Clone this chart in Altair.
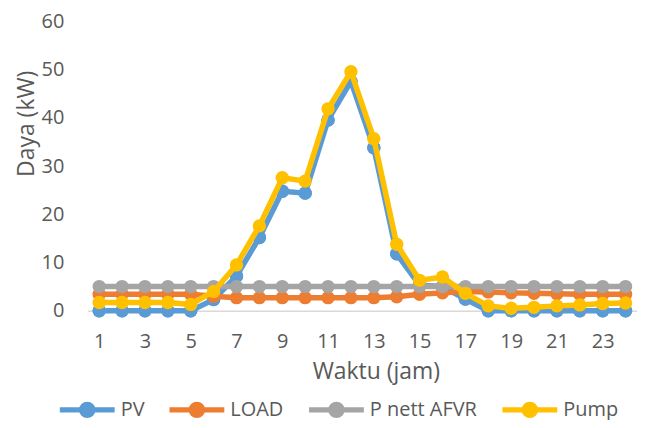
import altair as alt
import pandas as pd

hours = list(range(1, 25))
series_names = ["PV", "LOAD", "P nett AFVR", "Pump"]
series_colors = ["#5B9BD5", "#ED7D31", "#A5A5A5", "#FFC000"]

pv = [0, 0, 0, 0, 0, 2.3, 7.2, 15.2, 24.8, 24.4, 39.6, 47.6, 33.8, 11.8,
      5.3, 5.0, 2.4, 0, 0, 0, 0, 0, 0, 0]
load = [3.4, 3.4, 3.4, 3.4, 3.4, 3.0, 2.7, 2.7, 2.7, 2.7, 2.7, 2.7, 2.7, 2.9,
        3.4, 3.7, 4.0, 3.9, 3.7, 3.6, 3.5, 3.4, 3.4, 3.4]
pnett = [5.0, 5.0, 5.0, 5.0, 5.0, 5.0, 5.0, 5.0, 5.0, 5.0, 5.0, 5.0, 5.0, 5.0,
         5.0, 5.0, 5.0, 5.0, 5.0, 5.0, 5.0, 5.0, 5.0, 5.0]
pump = [1.7, 1.7, 1.7, 1.7, 1.3, 4.0, 9.5, 17.6, 27.6, 26.9, 41.9, 49.6, 35.7, 13.8,
        6.3, 7.0, 3.6, 1.0, 0.5, 0.7, 1.0, 1.2, 1.5, 1.6]

x_ticks = [1, 3, 5, 7, 9, 11, 13, 15, 17, 19, 21, 23]
y_ticks = [0, 10, 20, 30, 40, 50, 60]

rows = []
for name, vals in zip(series_names, [pv, load, pnett, pump]):
    for h, v in zip(hours, vals):
        rows.append({"Waktu": h, "Daya": v, "Seri": name})
df = pd.DataFrame(rows)

FONT = "Open Sans"
TXT = "#595959"

legend = alt.Legend(
    title=None,
    orient="none",
    legendX=-31,
    legendY=359,
    direction="horizontal",
    symbolType="M-1,0H1M-0.2,0A0.2,0.2,0,1,0,0.2,0A0.2,0.2,0,1,0,-0.2,0",
    symbolSize=3025,
    symbolStrokeWidth=5.5,
    symbolOpacity=1,
    labelFont=FONT,
    labelFontSize=20,
    labelColor=TXT,
    labelOffset=3,
    columnPadding=14,
)

base = alt.Chart(df).encode(
    x=alt.X("Waktu:Q",
            scale=alt.Scale(domain=[0.5, 24.5], nice=False, zero=False),
            axis=alt.Axis(values=x_ticks, title="Waktu (jam)", grid=False, ticks=False,
                          domainColor="#D9D9D9", domainWidth=1.5,
                          labelFont=FONT, labelFontSize=20, labelColor=TXT, labelPadding=21,
                          titleFont=FONT, titleFontSize=23, titleFontWeight="normal",
                          titleColor=TXT, titleX=289, titleY=61, titleBaseline="middle")),
    y=alt.Y("Daya:Q",
            scale=alt.Scale(domain=[0, 60], nice=False),
            axis=alt.Axis(values=y_ticks, title="Daya (kW)", grid=False, ticks=False, domain=False,
                          labelFont=FONT, labelFontSize=20, labelColor=TXT, labelPadding=24,
                          titleFont=FONT, titleFontSize=23, titleFontWeight="normal",
                          titleColor=TXT, titleX=-61, titleY=102, titleBaseline="middle")),
    color=alt.Color("Seri:N", scale=alt.Scale(domain=series_names, range=series_colors),
                    legend=legend),
)

layers = []
for i, name in enumerate(series_names):
    b = base.transform_filter(alt.datum.Seri == name)
    ln = b.mark_line(strokeWidth=5.5, strokeCap="round", strokeJoin="round")
    pt = b.mark_point(filled=True, size=180, opacity=1)
    if i == 0:
        layers += [pt, ln, pt]
    else:
        layers += [ln, pt]

chart = alt.layer(*layers).properties(
    width=551,
    height=290,
    autosize=alt.AutoSizeParams(type="none"),
    padding={"left": 80, "top": 13, "right": 0, "bottom": 109},
).configure_view(stroke=None)

chart.save("out.html", embed_options={"renderer": "svg", "actions": False})
